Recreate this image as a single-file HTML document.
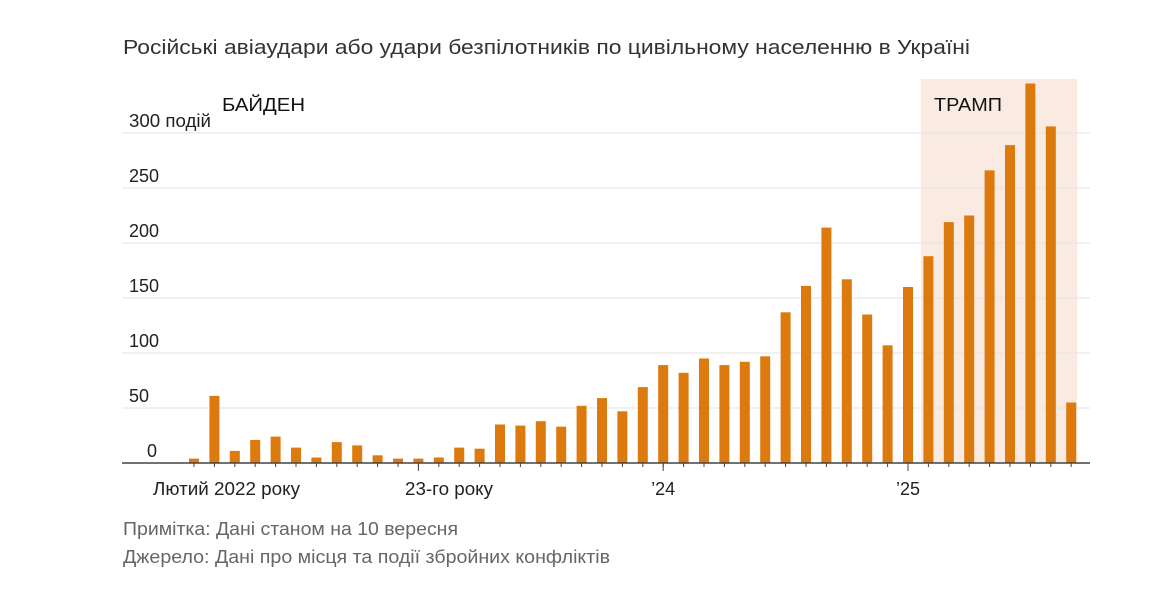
<!DOCTYPE html>
<html><head><meta charset="utf-8">
<style>
body{margin:0;background:#fff;width:1175px;height:611px;overflow:hidden;font-family:"Liberation Sans",sans-serif;}
svg text{font-family:"Liberation Sans",sans-serif;}
</style></head>
<body>
<svg width="1175" height="611">
<text x="123" y="54" font-size="20.5" fill="#333" textLength="847" lengthAdjust="spacingAndGlyphs">Російські авіаудари або удари безпілотників по цивільному населенню в Україні</text>
<g id="shade"></g>
<g id="grid"></g>
<g id="bars"></g>
<g id="xaxis"></g>
<text x="222" y="111" font-size="18" fill="#111" textLength="83" lengthAdjust="spacingAndGlyphs">БАЙДЕН</text>
<text x="934" y="111" font-size="18" fill="#111" textLength="68" lengthAdjust="spacingAndGlyphs">ТРАМП</text>
<text x="123" y="535" font-size="18" fill="#666" textLength="335" lengthAdjust="spacingAndGlyphs">Примітка: Дані станом на 10 вересня</text>
<text x="123" y="563" font-size="18" fill="#666" textLength="487" lengthAdjust="spacingAndGlyphs">Джерело: Дані про місця та події збройних конфліктів</text>
</svg>
<script>
const values=[4,61,11,21,24,14,5,19,16,7,4,4,5,14,13,35,34,38,33,52,59,47,69,89,82,95,89,92,97,137,161,214,167,135,107,160,188,219,225,266,289,345,306,55];
const yTicks=[0,50,100,150,200,250,300];
const yTickLabels=["0","50","100","150","200","250","300 подій"];
const xLabels=[{i:0,t:"Лютий 2022 року"},{i:11,t:"23-го року"},{i:23,t:"’24"},{i:35,t:"’25"}];
const trumpStart=36;
const NS="http://www.w3.org/2000/svg";
const y0=463,k=1.1,x0=194,dx=20.4,bw=10;
const y=v=>y0-v*k, x=i=>x0+i*dx;
function el(t,a,p){const e=document.createElementNS(NS,t);for(const n in a)e.setAttribute(n,a[n]);document.getElementById(p).appendChild(e);return e;}
const sx=x(trumpStart)-7.5;
const sh=el('rect',{x:sx,y:79,width:x(values.length-1)+bw/2+1-sx,height:y0-79,fill:'#f9ebe1'},'shade');


yTicks.forEach((v,j)=>{
  if(v>0){const l=el('line',{x1:122,x2:1090,y1:y(v),y2:y(v),stroke:'#e3e3e3','stroke-width':1},'grid');
  
  }
  const a={x:j==0?147:129,y:y(v)-6,'font-size':18,fill:'#222'};
  if(j==6){a.textLength=82;a.lengthAdjust='spacingAndGlyphs';}
  const t=el('text',a,'grid');
  t.textContent=yTickLabels[j];
  
  
});
values.forEach((v,i)=>{
  const r=el('rect',{x:x(i)-bw/2,y:y(v),width:bw,height:v*k,fill:'#dd7a0d'},'bars');
  
  
  const tk=el('line',{x1:x(i),x2:x(i),y1:y0,y2:y0+4,stroke:'#444'},'xaxis');
  
  
});
const ax=el('line',{x1:122,x2:1090,y1:y0,y2:y0,stroke:'#444','stroke-width':1.5},'xaxis');


xLabels.forEach(o=>{
  if(o.i>0){const tk=el('line',{x1:x(o.i),x2:x(o.i),y1:y0,y2:y0+8,stroke:'#444'},'xaxis');
  
  }
  const a={x:x(o.i),y:495,'font-size':18,fill:'#222','text-anchor':'middle'};
  if(o.i==0){a.x=153;a['text-anchor']='start';a.textLength=147;a.lengthAdjust='spacingAndGlyphs';}
  if(o.i==11){a.x=405;a['text-anchor']='start';a.textLength=88;a.lengthAdjust='spacingAndGlyphs';}
  const t=el('text',a,'xaxis');
  t.textContent=o.t;
  
  
});
</script>
</body></html>
